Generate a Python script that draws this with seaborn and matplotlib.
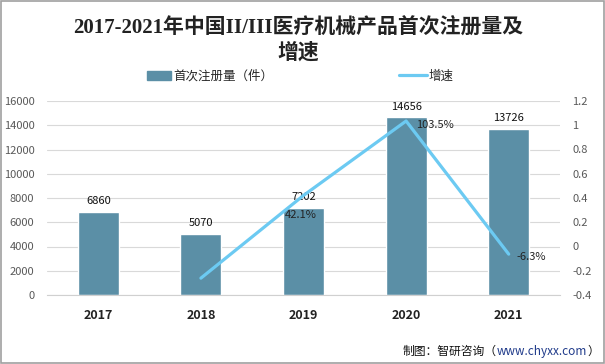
import numpy as np
import pandas as pd
import seaborn as sns
import matplotlib.pyplot as plt
from matplotlib.lines import Line2D
from matplotlib.patches import Patch

years = ['2017', '2018', '2019', '2020', '2021']
registrations = [6860, 5070, 7202, 14656, 13726]
growth_years = ['2018', '2019', '2020', '2021']
growth = [-0.261, 0.421, 1.035, -0.063]
growth_labels = ['', '42.1%', '103.5%', '-6.3%']

bar_color = '#5b8fa6'
line_color = '#6ccaf2'

sns.set_style('white')
plt.rcParams['font.family'] = ['Noto Sans CJK SC', 'DejaVu Sans']

df = pd.DataFrame({'pos': np.arange(len(years)), 'year': years, 'count': registrations})
gdf = pd.DataFrame({'pos': [years.index(y) for y in growth_years], 'growth': growth})

W, H = 605, 364
fig = plt.figure(figsize=(W / 100, H / 100), dpi=100)
ax = fig.add_axes([47 / W, 1 - 295 / H, 513 / W, 194 / H])

sns.barplot(data=df, x='pos', y='count', color=bar_color, width=0.4,
            saturation=1, ax=ax, native_scale=True, zorder=2)
ax.set_xlim(-0.5, len(years) - 0.5)
ax.set_ylim(0, 16000)
ax.set_yticks(range(0, 16001, 2000))
ax.set_xticks(df['pos'])
ax.set_xticklabels(years, fontsize=9, fontweight='bold', color='#222222')
ax.tick_params(axis='y', labelsize=8, colors='#595959', length=0, pad=9)
ax.tick_params(axis='x', length=0, pad=10)
ax.set_xlabel('')
ax.set_ylabel('')
ax.grid(axis='y', color='#d9d9d9', linewidth=0.8, zorder=0)
ax.set_axisbelow(True)
for s in ['top', 'left', 'right']:
    ax.spines[s].set_visible(False)
ax.spines['bottom'].set_color('#d0d0d0')

for p, v in zip(df['pos'], registrations):
    ax.text(p, v + 450, str(v), ha='center', va='bottom', fontsize=8, color='#111111')

ax2 = ax.twinx()
sns.lineplot(data=gdf, x='pos', y='growth', color=line_color, linewidth=2.3, ax=ax2)
ax2.set_ylim(-0.4, 1.2)
ax2.set_yticks(np.round(np.arange(-0.4, 1.21, 0.2), 1))
ax2.set_yticklabels(['-0.4', '-0.2', '0', '0.2', '0.4', '0.6', '0.8', '1', '1.2'])
ax2.tick_params(axis='y', labelsize=8, colors='#595959', length=0, pad=9)
ax2.set_ylabel('')
ax2.set_xlabel('')
for s in ax2.spines.values():
    s.set_visible(False)

# label offsets (in axis units) for the growth values
offsets = [(0, 0), (-0.03, -0.165), (0.1, -0.03), (0.08, -0.02)]
aligns = ['left', 'center', 'left', 'left']
for p, v, lab, (dx, dy), ha in zip(gdf['pos'], growth, growth_labels, offsets, aligns):
    if lab:
        ax2.text(p + dx, v + dy, lab, ha=ha, va='center', fontsize=8, color='#222222')

# title: serif latin glyphs, CJK falls back to Noto
title_font = ['Liberation Serif', 'Noto Sans CJK SC']
fig.text(298 / W, 1 - 29 / H, '2017-2021年中国II/III医疗机械产品首次注册量及', ha='center', va='center',
         fontsize=15, fontweight='bold', color='#222222', family=title_font)
fig.text(298 / W, 1 - 53 / H, '增速', ha='center', va='center', fontsize=15, fontweight='bold',
         color='#222222', family=title_font)

fig.legend(handles=[Patch(color=bar_color, label='首次注册量（件）')], loc='center left',
           bbox_to_anchor=(147 / W, 1 - 76 / H), frameon=False, fontsize=9,
           borderpad=0, borderaxespad=0, handlelength=1.9, handletextpad=0.2)
fig.legend(handles=[Line2D([0], [0], color=line_color, linewidth=2.3, label='增速')], loc='center left',
           bbox_to_anchor=(399 / W, 1 - 76 / H), frameon=False, fontsize=9,
           borderpad=0, borderaxespad=0, handlelength=2.2, handletextpad=0.2)

# footer, assembled right to left
renderer = fig.canvas.get_renderer()
x = 599 / W
fy = 1 - 351 / H
for txt, col in [('）', '#111111'), ('www.chyxx.com', '#1f3a8a'), ('制图：智研咨询（', '#111111')]:
    t = fig.text(x, fy, txt, ha='right', va='center', fontsize=8.5, color=col)
    bb = t.get_window_extent(renderer=renderer)
    x = bb.x0 / W

fig.patches.append(plt.Rectangle((0.001, 0.002), 0.997, 0.995, transform=fig.transFigure,
                                 fill=False, edgecolor='#a0a0a0', linewidth=1.2))

fig.savefig('out.png', dpi=100)
